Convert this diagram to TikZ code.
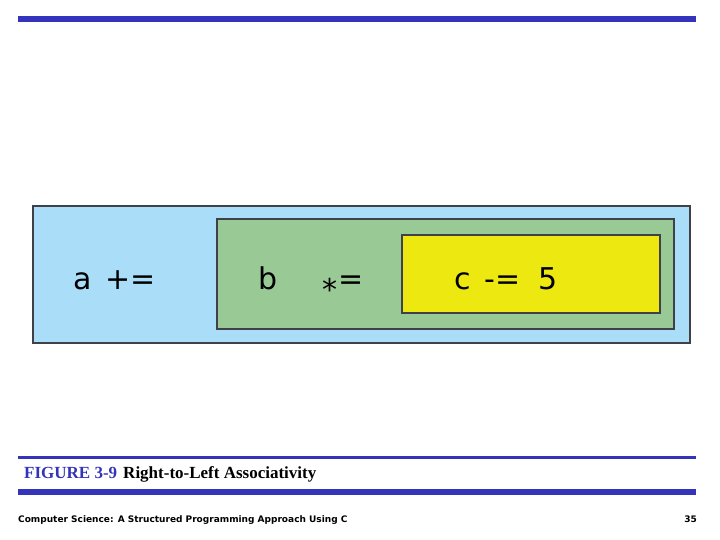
\documentclass[tikz,border=0pt]{standalone}
\usepackage{fontspec}
\setmainfont{Liberation Serif}
\setsansfont{DejaVu Sans}
\definecolor{barblue}{HTML}{3333BB}
\definecolor{lblue}{HTML}{AADDF8}
\definecolor{lgreen}{HTML}{99C994}
\definecolor{lyellow}{HTML}{EEE811}
\definecolor{edge}{HTML}{404048}
\tikzset{box/.style={draw=edge,line width=2pt},
 big/.style={font=\sffamily\fontsize{30}{30}\selectfont,anchor=base west,inner sep=0}}
\begin{document}
\begin{tikzpicture}[x=1pt,y=-1pt]
\useasboundingbox (0,0) rectangle (720,540);
\fill[barblue] (18,16) rectangle (696,22);
\node[box,fill=lblue,minimum width=657pt,minimum height=137pt,anchor=north west,inner sep=0] (outer) at (32,205) {};
\node[box,fill=lgreen,minimum width=457pt,minimum height=110pt,anchor=north west,inner sep=0] (green) at (216,218) {};
\node[box,fill=lyellow,minimum width=258pt,minimum height=78pt,anchor=north west,inner sep=0] (yellow) at (401,234) {};
\node[big] (a) at (73,289) {a\hspace{14pt}+=};
\node[big] (b) at (258,289) {b};
\node[big] (m) at (322,300) {*};
\node[big] (eq) at (338,289) {=};
\node[big] (c) at (454,289) {c\hspace{14pt}-=\hspace{18pt}5};
\fill[barblue] (18,456) rectangle (696,458.5);
\node[anchor=base west,inner sep=0,font=\fontsize{17}{17}\selectfont\bfseries] (cap) at (24,478) {\textcolor{barblue}{FIGURE 3-9}\hspace{6pt}Right-to-Left Associativity};
\fill[barblue] (18,489) rectangle (696,495);
\node[anchor=base west,inner sep=0,font=\sffamily\bfseries\fontsize{9}{9}\selectfont] (foot) at (18,522) {Computer Science: A Structured Programming Approach Using C};
\node[anchor=base east,inner sep=0,font=\sffamily\bfseries\fontsize{9}{9}\selectfont] (pg) at (697,522) {35};
\end{tikzpicture}
\end{document}
